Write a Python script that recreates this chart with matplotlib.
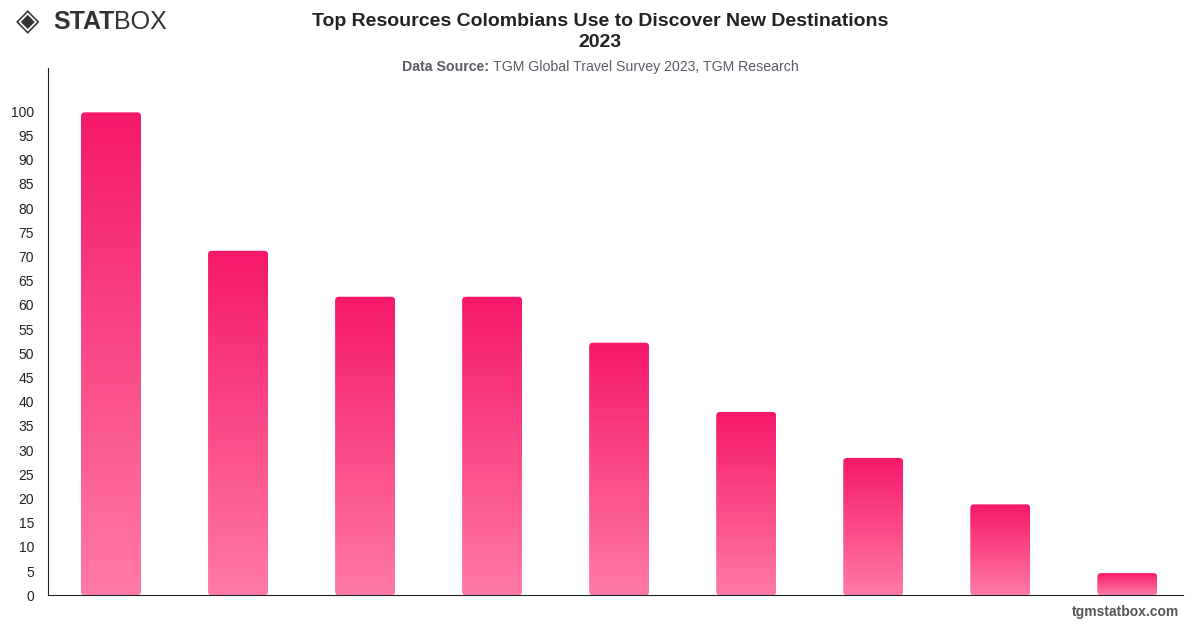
import matplotlib.pyplot as plt
import numpy as np
from matplotlib.colors import LinearSegmentedColormap
from matplotlib.patches import FancyBboxPatch

plt.rcParams["font.family"] = ["Liberation Sans", "DejaVu Sans"]

# data
categories = ["", "", "", "", "", "", "", "", ""]
values = [99.8, 71.2, 61.7, 61.7, 52.2, 37.9, 28.4, 18.8, 4.6]
yticks = list(range(0, 105, 5))

fig = plt.figure(figsize=(12, 6.28), dpi=100)
ax = fig.add_axes([0.04, 0.052, 0.946, 0.84])

grad = LinearSegmentedColormap.from_list("pk", ["#ff7aa6", "#f5186a"])
img = np.linspace(0, 1, 256).reshape(-1, 1)
width = 0.472

for i, v in enumerate(values):
    x0 = i - width / 2
    patch = FancyBboxPatch((x0, 0), width, v,
                           boxstyle="round,pad=0,rounding_size=0.03",
                           mutation_aspect=27,
                           facecolor="none", edgecolor="none")
    ax.add_patch(patch)
    im = ax.imshow(img, cmap=grad, aspect="auto", origin="lower",
                   extent=[x0, x0 + width, 0, v], zorder=2)
    im.set_clip_path(patch)

ax.set_xlim(-0.496, 8.44)
ax.set_ylim(0, 109)
ax.set_yticks(yticks)
ax.set_xticks(range(len(values)))
ax.set_xticklabels(categories)
ax.tick_params(axis="y", length=0, labelsize=10, colors="#222222", pad=10)
ax.tick_params(axis="x", length=0)
for s in ["top", "right"]:
    ax.spines[s].set_visible(False)
ax.spines["left"].set_color("#222222")
ax.spines["bottom"].set_color("#222222")

fig.text(0.5, 0.98, "Top Resources Colombians Use to Discover New Destinations\n2023",
         ha="center", va="top", fontsize=14, fontweight="bold", color="#222222",
         linespacing=1.35)

# subtitle, centred as a whole
fig.canvas.draw()
r = fig.canvas.get_renderer()
t1 = fig.text(0, 0.893, "Data Source: ", ha="left", va="center", fontsize=10.2,
              fontweight="bold", color="#5f5a66")
t2 = fig.text(0, 0.893, "TGM Global Travel Survey 2023, TGM Research", ha="left",
              va="center", fontsize=10.2, color="#5f5a66")
w1 = t1.get_window_extent(r).width / fig.bbox.width
w2 = t2.get_window_extent(r).width / fig.bbox.width
start = 0.5 - (w1 + w2) / 2
t1.set_x(start)
t2.set_x(start + w1)

# logo
fig.text(0.013, 0.965, "◈", ha="left", va="center", fontsize=22, color="#333333",
         family="DejaVu Sans")
fig.text(0.044, 0.965, "STAT", ha="left", va="center", fontsize=18,
         fontweight="heavy", color="#333333")
fig.text(0.095, 0.965, "BOX", ha="left", va="center", fontsize=18,
         fontweight="light", color="#333333")

fig.text(0.983, 0.025, "tgmstatbox.com", ha="right", va="center", fontsize=10,
         fontweight="bold", color="#555555")

fig.savefig("out.png", dpi=100)
